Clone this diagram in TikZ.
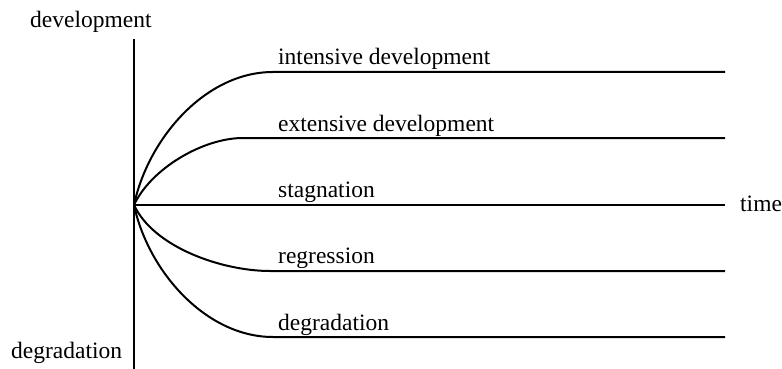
\documentclass[tikz,border=0pt]{standalone}
\usepackage{fontspec}
\setmainfont{Liberation Serif}
\usetikzlibrary{positioning}

\begin{document}
\begin{tikzpicture}[x=1pt,y=-1pt,
    curve/.style={line width=2pt},
    lbl/.style={inner sep=0pt, anchor=base west, font=\fontsize{23.5}{26}\selectfont}]
            \useasboundingbox (0,0) rectangle (782,369);
            % axis
            \coordinate (top) at (134,39);
            \coordinate (bot) at (134,369);
            \coordinate (o) at (134,205);
            \draw[curve] (top) -- (bot);
            % bend points and line ends
            \coordinate (ia) at (273,72);   \coordinate (ib) at (725,72);
            \coordinate (ea) at (243,138);  \coordinate (eb) at (725,138);
            \coordinate (sb) at (725,205);
            \coordinate (ra) at (270,271);  \coordinate (rb) at (725,271);
            \coordinate (da) at (273,337);  \coordinate (db) at (725,337);
            \draw[curve] (o) to[out=78,in=180,looseness=0.9] (ia) -- (ib);
            \draw[curve] (o) to[out=65,in=180,looseness=0.8] (ea) -- (eb);
            \draw[curve] (o) -- (sb);
            \draw[curve] (o) to[out=-65,in=180,looseness=0.8] (ra) -- (rb);
            \draw[curve] (o) to[out=-78,in=180,looseness=0.9] (da) -- (db);
            % labels
            \node[lbl] (il) at (278,65) {intensive development};
            \node[lbl] (el) at (278,131) {extensive development};
            \node[lbl] (sl) at (278,197) {stagnation};
            \node[lbl] (rl) at (278,263) {regression};
            \node[lbl] (dl) at (278,330) {degradation};
            \node[lbl] (time) at (740,211) {time};
            \node[lbl] (up) at (30,28) {development};
            \node[lbl] (down) at (11,358) {degradation};
            \end{tikzpicture}
\end{document}
